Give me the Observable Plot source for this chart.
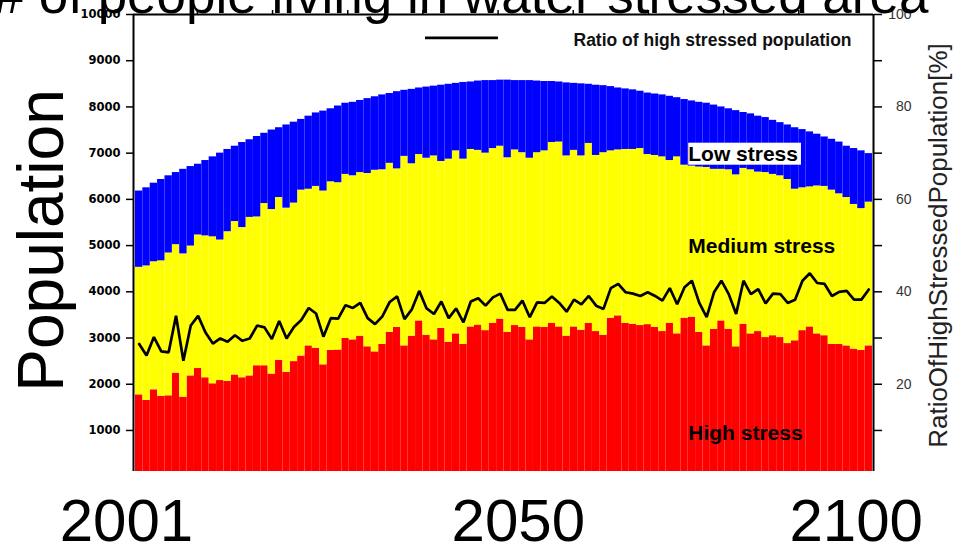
<!DOCTYPE html>
<html>
<head>
<meta charset="utf-8">
<script src="https://cdn.jsdelivr.net/npm/d3@7"></script>
<script src="https://cdn.jsdelivr.net/npm/@observablehq/plot@0.6"></script>
<style>
  html, body { margin: 0; padding: 0; background: #fff; overflow: hidden; }
  #chart { width: 956px; height: 546px; }
</style>
</head>
<body>
<div id="chart"></div>
<script>
// ---- data ----
const years = d3.range(2001, 2101); // 2001 .. 2100

// population living under high stress (top of red)
const highStress = [
  1770,1650,1880,1740,1750,2240,1720,2180,2340,2140,
  2010,2080,2060,2200,2140,2180,2400,2400,2220,2520,
  2260,2490,2610,2830,2780,2420,2730,2740,2990,2960,
  3040,2810,2700,2860,3120,3230,2830,3040,3370,3060,
  2960,3210,2910,3090,2860,3240,3280,3160,3320,3410,
  3120,3270,3230,2960,3240,3230,3320,3240,3040,3240,
  3170,3320,3140,3060,3430,3480,3320,3300,3270,3290,
  3230,3140,3320,3090,3430,3450,3120,2830,3190,3370,
  3190,2810,3300,3090,3140,3010,3050,3010,2880,2940,
  3160,3240,3090,3050,2860,2860,2830,2760,2730,2830
];
// high + medium stress population (top of yellow)
const highPlusMedium = [
  4530,4560,4650,4670,4840,5020,4820,4990,5230,5210,
  5190,5120,5300,5520,5390,5610,5620,5910,5780,6040,
  5810,5920,6200,6220,6280,6180,6380,6360,6540,6510,
  6580,6560,6630,6640,6780,6660,6930,6770,6970,6890,
  6940,6820,6870,7050,6870,7080,7060,7000,7100,7150,
  6900,7070,7010,6890,7010,7050,7230,7240,6940,7060,
  6940,7210,6950,7010,7050,7070,7080,7080,7100,6970,
  6950,6920,6840,6920,6740,6720,6700,6690,6650,6650,
  6640,6530,6670,6640,6590,6580,6540,6510,6430,6220,
  6250,6270,6290,6280,6200,6120,6040,5890,5800,5940
];
// total population incl. low stress (top of blue)
const totalPopulation = [
  6180,6250,6350,6430,6510,6580,6650,6710,6760,6840,
  6920,7000,7080,7150,7230,7290,7360,7430,7500,7550,
  7610,7670,7730,7800,7870,7910,7960,8020,8080,8100,
  8140,8180,8220,8260,8290,8330,8360,8380,8410,8430,
  8450,8470,8490,8510,8530,8540,8560,8570,8570,8580,
  8580,8570,8570,8570,8560,8550,8550,8540,8520,8510,
  8500,8490,8470,8460,8440,8410,8390,8370,8340,8300,
  8280,8260,8230,8200,8160,8130,8100,8080,8040,8000,
  7960,7920,7880,7850,7800,7770,7710,7660,7610,7550,
  7510,7460,7410,7350,7300,7240,7150,7100,7050,6990
];
// ratio of high stressed population [%] (right axis)
const ratioHigh = [
  28.7,26.2,30.2,27.1,26.9,34.8,25.1,32.7,34.8,31.2,
  28.8,29.9,29.2,30.6,29.4,29.9,32.7,32.3,29.8,33.7,
  29.9,32.4,33.9,36.5,35.3,30.3,34.3,34.2,37.1,36.5,
  37.6,34.3,33.0,34.7,37.8,39.0,34.1,36.2,40.2,36.4,
  35.2,37.9,34.3,36.4,33.4,37.9,38.6,37.0,38.8,39.6,
  36.1,36.1,38.1,34.5,37.7,37.6,39.0,37.6,35.7,38.3,
  37.3,39.1,37.0,36.3,40.8,41.7,39.9,39.6,39.1,39.9,
  39.1,38.1,40.8,37.3,41.0,42.4,37.6,34.5,39.9,42.4,
  39.5,35.2,42.4,39.5,40.6,37.5,39.6,39.5,37.6,38.3,
  42.4,44.0,41.9,41.7,39.1,40.0,40.2,38.3,38.3,40.5
];

const leftTicks = [1000,2000,3000,4000,5000,6000,7000,8000,9000,10000];
const topTicks = [2009.4,2019.6,2029.8,2040,2050.2,2060.4,2070.6,2080.8,2091];
const yearLabels = [2001, 2050, 2100];
const stressLabels = [
  {label: "Low stress",    year: 2076, value: 6826},
  {label: "Medium stress", year: 2076, value: 4829},
  {label: "High stress",   year: 2076, value: 783}
];
const titleText = "# of people living in water stressed area";
const legendText = "Ratio of high stressed population";
const legendLine = {x1: 2040.35, x2: 2050.25, value: 9493};

// ---- table ----
const rows = years.map((year, i) => ({
  year,
  high: highStress[i],
  highMed: highPlusMedium[i],
  total: totalPopulation[i],
  ratio: ratioHigh[i]
}));

const xDomain = [2000.73, 2101.14];
const yDomain = [112, 10000];
const sans = '"Liberation Sans", Arial, Helvetica, sans-serif';

const chart = Plot.plot({
  width: 956,
  height: 546,
  marginLeft: 133,
  marginRight: 83,
  marginTop: 14,
  marginBottom: 75,
  style: {fontFamily: sans, background: "white", color: "black"},
  x: {type: "linear", domain: xDomain},
  y: {type: "linear", domain: yDomain},
  marks: [
    Plot.rect(rows, {x1: "year", x2: d => d.year + 1, y1: 0, y2: "high", fill: "#ff0000", clip: true}),
    Plot.rect(rows, {x1: "year", x2: d => d.year + 1, y1: "high", y2: "highMed", fill: "#ffff00", clip: true}),
    Plot.rect(rows, {x1: "year", x2: d => d.year + 1, y1: "highMed", y2: "total", fill: "#0000ff", clip: true}),
    Plot.line(rows, {x: d => d.year + 0.5, y: d => d.ratio * 100, stroke: "black", strokeWidth: 2.7, strokeLinejoin: "miter"}),
    // frame (left, right, top)
    Plot.ruleX(xDomain, {stroke: "black", strokeWidth: 2}),
    Plot.ruleY([yDomain[1]], {stroke: "black", strokeWidth: 2}),
    // axes
    Plot.axisY({anchor: "left", ticks: leftTicks, tickSize: 7, tickPadding: 6, strokeWidth: 1.5,
      tickFormat: d => String(d), fontFamily: "DejaVu Sans", fontWeight: "bold", fontSize: 11.5, label: null}),
    Plot.axisY({anchor: "right", ticks: leftTicks, tickSize: 8, tickPadding: 30, strokeWidth: 1.5, textAnchor: "end",
      tickFormat: d => (d % 2000 === 0 ? String(d / 100) : ""), fontSize: 14, fill: "#333", label: null}),
    Plot.axisX({anchor: "top", ticks: topTicks, tickSize: 5, strokeWidth: 1.5, tickFormat: () => "", label: null}),
    // texts
    Plot.text([titleText], {frameAnchor: "top-left", dx: -139, dy: -2, textAnchor: "start", lineAnchor: "bottom", fontSize: 53, fill: "black"}),
    Plot.text([yearLabels[0]], {x: d => d + 0.5, frameAnchor: "bottom", textAnchor: "middle", dx: -12.7, dy: 69, lineAnchor: "bottom", fontSize: 60, text: d => String(d), fill: "black"}),
    Plot.text([yearLabels[1]], {x: d => d + 0.5, frameAnchor: "bottom", textAnchor: "middle", dx: 18, dy: 69, lineAnchor: "bottom", fontSize: 60, text: d => String(d), fill: "black"}),
    Plot.text([yearLabels[2]], {x: d => d + 0.5, frameAnchor: "bottom", textAnchor: "middle", dx: -12.6, dy: 69, lineAnchor: "bottom", fontSize: 60, text: d => String(d), fill: "black"}),
    Plot.text(["Population"], {frameAnchor: "left", textAnchor: "middle", rotate: -90, dx: -71, dy: -2.5, lineAnchor: "bottom", fontSize: 64, fill: "black"}),
    Plot.text(["RatioOfHighStressedPopulation[%]"], {frameAnchor: "right", textAnchor: "middle", rotate: -90, dx: 73, dy: 2.5, lineAnchor: "bottom", fontSize: 26, fill: "#222"}),
    // legend
    Plot.ruleY([legendLine.value], {x1: legendLine.x1, x2: legendLine.x2, stroke: "black", strokeWidth: 2.7}),
    Plot.text([legendText], {frameAnchor: "top-left", dx: 440, dy: 31, textAnchor: "start", lineAnchor: "bottom", fontSize: 17.5, fontWeight: "bold", fill: "#111"}),
    // stress labels
    Plot.text(stressLabels, {x: "year", y: "value", text: "label", textAnchor: "start", lineAnchor: "bottom", fontSize: 21, fontWeight: "bold", fill: "black"})
  ]
});

document.getElementById("chart").appendChild(chart);

// white box behind the "Low stress" label
d3.select(chart).selectAll("text").each(function () {
  if (this.textContent === "Low stress") {
    const b = this.getBBox();
    const g = this.parentNode;
    const ctm = this.getAttribute("transform");
    const r = document.createElementNS("http://www.w3.org/2000/svg", "rect");
    r.setAttribute("x", b.x);
    r.setAttribute("y", b.y + 0.5);
    r.setAttribute("width", b.width + 3);
    r.setAttribute("height", b.height - 1);
    r.setAttribute("fill", "white");
    if (ctm) r.setAttribute("transform", ctm);
    g.insertBefore(r, this);
  }
});
</script>
</body>
</html>
